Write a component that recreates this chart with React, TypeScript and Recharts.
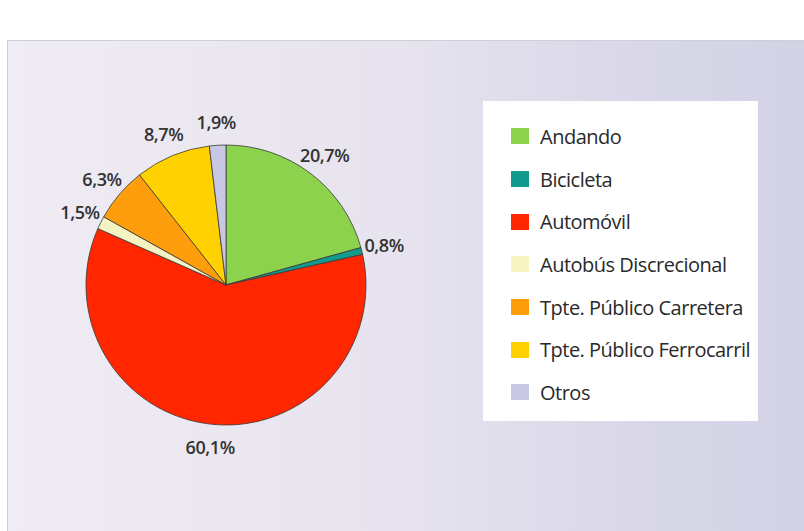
import React from "react";
import { PieChart, Pie, Cell, Legend } from "recharts";

const categories = [
  "Andando",
  "Bicicleta",
  "Automóvil",
  "Autobús Discrecional",
  "Tpte. Público Carretera",
  "Tpte. Público Ferrocarril",
  "Otros",
];
const shares = [20.7, 0.8, 60.1, 1.5, 6.3, 8.7, 1.9];
const colors = ["#8DD24C", "#139A8E", "#FF2600", "#F6F3C2", "#FF9E0C", "#FFD100", "#C9C8E4"];

const data = categories.map((name, i) => ({ name, value: shares[i] }));

const RADIAN = Math.PI / 180;
const fmt = (v: number) => v.toFixed(1).replace(".", ",") + "%";

const renderLabel = (props: any) => {
  const { cx, cy, midAngle, outerRadius, value } = props;
  const r = outerRadius + 23;
  const x = cx + r * Math.cos(-midAngle * RADIAN);
  const y = cy + r * Math.sin(-midAngle * RADIAN);
  return (
    <text
      x={x}
      y={y}
      textAnchor="middle"
      dominantBaseline="central"
      fill="#333"
      fontFamily="'Open Sans', sans-serif"
      fontWeight={600}
      fontSize={18}
      letterSpacing={-0.4}
    >
      {fmt(value)}
    </text>
  );
};

const renderLegend = (props: any) => {
  const payload = [...(props.payload || [])].sort(
    (a: any, b: any) => categories.indexOf(a.value) - categories.indexOf(b.value)
  );
  return (
    <div
      style={{
        background: "#ffffff",
        width: 275,
        height: 320,
        boxSizing: "border-box",
        paddingTop: 14,
        paddingLeft: 28,
      }}
    >
      {payload.map((entry: any, i: number) => {
        const idx = categories.indexOf(entry.value);
        const c = idx >= 0 ? colors[idx] : entry.color;
        return (
          <div
            key={i}
            style={{ display: "flex", alignItems: "center", height: 42.7 }}
          >
            <div style={{ width: 18, height: 16, background: c, marginRight: 11, flex: "none" }} />
            <span
              style={{
                fontFamily: "'Open Sans', sans-serif",
                fontSize: 20,
                letterSpacing: -0.5,
                color: "#2a2a2a",
                whiteSpace: "nowrap",
              }}
            >
              {entry.value}
            </span>
          </div>
        );
      })}
    </div>
  );
};

export default function App() {
  return (
    <div style={{ position: "absolute", left: 0, top: 0, width: 804, height: 531, background: "#ffffff", overflow: "hidden" }}>
      <div
        style={{
          position: "absolute",
          left: 7,
          top: 40,
          width: 810,
          height: 500,
          border: "1px solid #cfcfd8",
          background: "linear-gradient(90deg, #F0ECF4 0%, #E8E4EF 45%, #D8D7E8 80%, #D2D2E5 100%)",
        }}
      />
      <div style={{ position: "absolute", left: 0, top: 0 }}>
        <PieChart width={804} height={531} margin={{ top: 0, right: 0, bottom: 0, left: 0 }}>
          <Pie
            data={data}
            dataKey="value"
            nameKey="name"
            cx={226}
            cy={285}
            outerRadius={140}
            startAngle={90}
            endAngle={-270}
            stroke="#3a3a3a"
            strokeWidth={0.8}
            label={renderLabel}
            labelLine={false}
            isAnimationActive={false}
          >
            {data.map((d, i) => (
              <Cell key={d.name} fill={colors[i]} />
            ))}
          </Pie>
          <Legend
            layout="vertical"
            align="right"
            verticalAlign="top"
            content={renderLegend}
            wrapperStyle={{ left: 483, top: 101, width: 275, height: 320 }}
          />
        </PieChart>
      </div>
    </div>
  );
}
